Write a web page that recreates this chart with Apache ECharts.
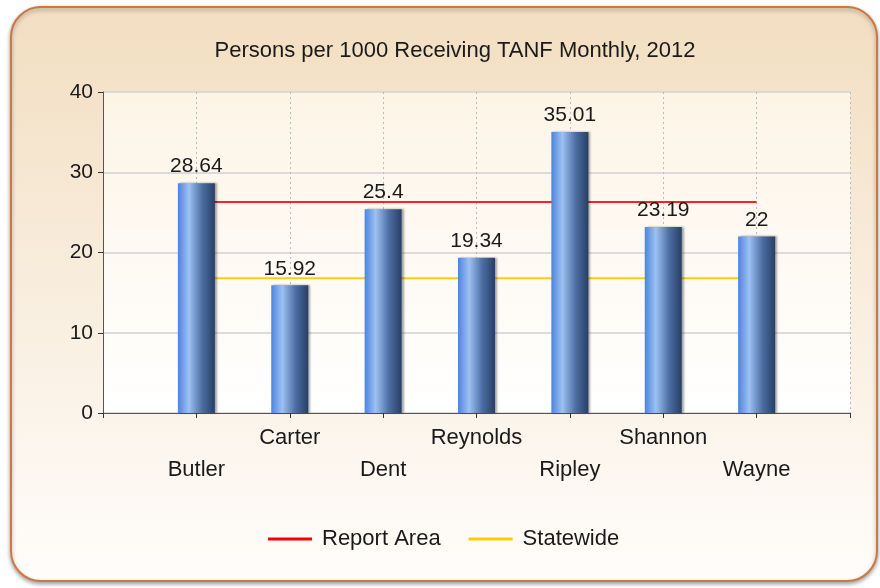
<!DOCTYPE html>
<html>
<head>
<meta charset="utf-8">
<script src="https://cdn.jsdelivr.net/npm/echarts@6/dist/echarts.min.js"></script>
<style>
  html, body { margin: 0; padding: 0; background: #ffffff; }
  #chart { width: 880px; height: 588px; }
</style>
</head>
<body>
<div id="chart"></div>
<script>
var counties = ['Butler', 'Carter', 'Dent', 'Reynolds', 'Ripley', 'Shannon', 'Wayne'];
var rates = [28.64, 15.92, 25.4, 19.34, 35.01, 23.19, 22];
var reportArea = 26.3;
var statewide = 16.8;
var yTicks = { min: 0, max: 40, interval: 10 };

var fontName = 'Liberation Sans';

// axis has an empty slot on each side so bars sit on the tick lines
var axisData = [''].concat(counties, ['']);
var barData = ['-'].concat(rates, ['-']);
var reportData = ['-'].concat(counties.map(function () { return reportArea; }), ['-']);
var stateData = ['-'].concat(counties.map(function () { return statewide; }), ['-']);

var chart = echarts.init(document.getElementById('chart'));

var opts = {
    animation: false,
    textStyle: { fontFamily: fontName },
    graphic: [{
        type: 'rect',
        z: -10,
        shape: { x: 11, y: 7, width: 866, height: 574, r: 30 },
        style: {
            fill: new echarts.graphic.LinearGradient(0, 0, 0, 1, [
                { offset: 0, color: '#f2dec1' },
                { offset: 1, color: '#fffdfb' }
            ]),
            stroke: '#cc7844',
            lineWidth: 2,
            shadowColor: 'rgba(0,0,0,0.35)',
            shadowBlur: 4,
            shadowOffsetY: 2
        }
    }],
    title: {
        text: 'Persons per 1000 Receiving TANF Monthly, 2012',
        left: 450,
        textAlign: 'center',
        top: 35,
        textStyle: { fontSize: 22, fontWeight: 'normal', color: '#1a1a1a', fontFamily: fontName }
    },
    legend: {
        data: ['Report Area', 'Statewide'],
        left: 263,
        top: 523,
        icon: 'rect',
        itemWidth: 44,
        itemHeight: 3,
        itemGap: 28,
        textStyle: { fontSize: 22, color: '#1a1a1a', fontFamily: fontName, padding: [0, 0, 0, 5] }
    },
    grid: {
        left: 103,
        top: 92,
        right: 30,
        bottom: 175,
        show: true,
        borderWidth: 0,
        backgroundColor: new echarts.graphic.LinearGradient(0, 0, 0, 1, [
            { offset: 0, color: '#fdf4e6' },
            { offset: 1, color: '#ffffff' }
        ])
    },
    xAxis: {
        type: 'category',
        data: axisData,
        boundaryGap: false,
        axisLine: { lineStyle: { color: '#555555', width: 1 } },
        axisTick: { show: true, length: 5, lineStyle: { color: '#333333' } },
        splitLine: { show: true, lineStyle: { color: '#bbbbbb', type: [2, 3] } },
        axisLabel: {
            interval: 0,
            margin: 9,
            fontSize: 22,
            lineHeight: 32,
            color: '#1a1a1a',
            formatter: function (value, index) {
                return index % 2 === 1 ? '\n' + value : value;
            }
        }
    },
    yAxis: {
        type: 'value',
        min: yTicks.min,
        max: yTicks.max,
        interval: yTicks.interval,
        axisLine: { show: true, lineStyle: { color: '#555555', width: 1 } },
        axisTick: { show: true, length: 5, lineStyle: { color: '#333333' } },
        splitLine: { lineStyle: { color: '#d2d2d2', width: 1.5 } },
        axisLabel: { fontSize: 21, margin: 10, color: '#1a1a1a' }
    },
    series: [
        {
            name: 'Report Area',
            type: 'line',
            z: 1,
            data: reportData,
            symbol: 'none',
            lineStyle: { color: '#ff2020', width: 2 },
            itemStyle: { color: '#ff0000' }
        },
        {
            name: 'Statewide',
            type: 'line',
            z: 1,
            data: stateData,
            symbol: 'none',
            lineStyle: { color: '#ffcc10', width: 2 },
            itemStyle: { color: '#ffcc00' }
        },
        {
            name: 'Rate',
            type: 'bar',
            z: 3,
            data: barData,
            barWidth: 37,
            itemStyle: {
                color: new echarts.graphic.LinearGradient(0, 0, 1, 0, [
                    { offset: 0, color: '#4c85dc' },
                    { offset: 0.3, color: '#9dc1f3' },
                    { offset: 0.65, color: '#4e6fa3' },
                    { offset: 1, color: '#263f66' }
                ]),
                shadowColor: 'rgba(0,0,0,0.35)',
                shadowBlur: 2,
                shadowOffsetX: 2
            },
            label: {
                show: true,
                position: 'top',
                distance: 6,
                fontSize: 21,
                color: '#1a1a1a'
            }
        }
    ]
};

chart.setOption(opts);
</script>
</body>
</html>
